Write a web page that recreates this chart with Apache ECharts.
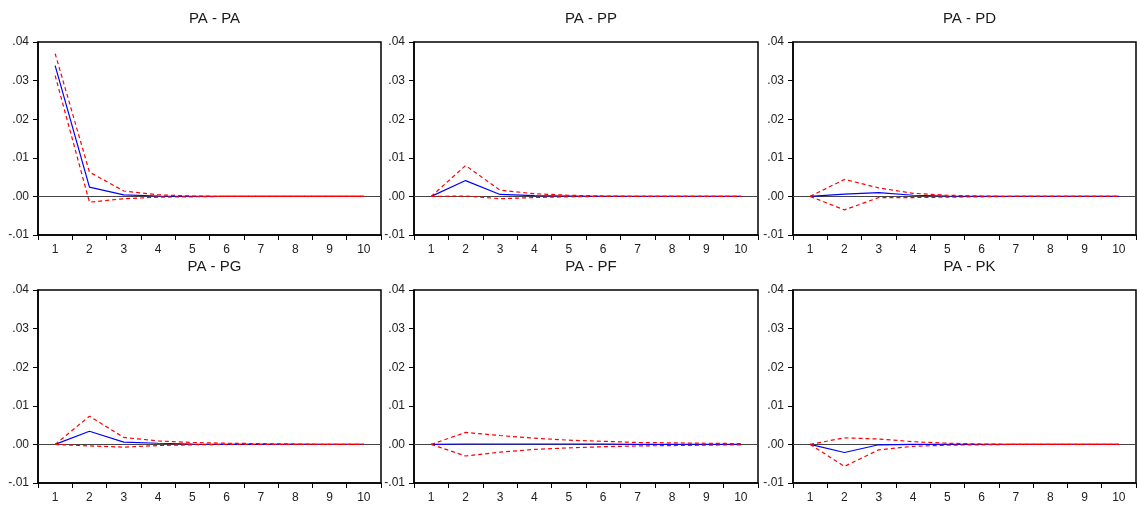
<!DOCTYPE html>
<html>
<head>
<meta charset="utf-8">
<script src="https://cdn.jsdelivr.net/npm/echarts@6/dist/echarts.min.js"></script>
<style>
  html, body { margin: 0; padding: 0; background: #fff; }
  #chart { width: 1137px; height: 509px; }
</style>
</head>
<body>
<div id="chart"></div>
<script>
// Response periods
const periods = ['1', '2', '3', '4', '5', '6', '7', '8', '9', '10'];

// Panel titles (response of PA to each shock)
const panelTitles = ['PA - PA', 'PA - PP', 'PA - PD', 'PA - PG', 'PA - PF', 'PA - PK'];

// Y tick values
const yTicks = [-0.01, 0.00, 0.01, 0.02, 0.03, 0.04];

// PA - PA
const respPA  = [0.0339, 0.0024, 0.0004, 0.0001, 0.0000, 0.0000, 0.0000, 0.0000, 0.0000, 0.0000];
const upperPA = [0.0370, 0.0063, 0.0014, 0.0004, 0.0001, 0.0000, 0.0000, 0.0000, 0.0000, 0.0000];
const lowerPA = [0.0313, -0.0015, -0.0006, -0.0002, -0.0001, 0.0000, 0.0000, 0.0000, 0.0000, 0.0000];

// PA - PP
const respPP  = [0.0000, 0.0041, 0.0005, 0.0002, 0.0001, 0.0000, 0.0000, 0.0000, 0.0000, 0.0000];
const upperPP = [0.0000, 0.0080, 0.0016, 0.0007, 0.0003, 0.0001, 0.0000, 0.0000, 0.0000, 0.0000];
const lowerPP = [0.0000, 0.0001, -0.0006, -0.0003, -0.0001, 0.0000, 0.0000, 0.0000, 0.0000, 0.0000];

// PA - PD
const respPD  = [0.0000, 0.0006, 0.0010, 0.0003, 0.0001, 0.0000, 0.0000, 0.0000, 0.0000, 0.0000];
const upperPD = [0.0000, 0.0044, 0.0022, 0.0008, 0.0003, 0.0001, 0.0000, 0.0000, 0.0000, 0.0000];
const lowerPD = [0.0000, -0.0035, -0.0003, -0.0003, -0.0002, -0.0001, 0.0000, 0.0000, 0.0000, 0.0000];

// PA - PG
const respPG  = [0.0000, 0.0034, 0.0006, 0.0003, 0.0001, 0.0000, 0.0000, 0.0000, 0.0000, 0.0000];
const upperPG = [0.0000, 0.0073, 0.0018, 0.0009, 0.0005, 0.0003, 0.0002, 0.0001, 0.0000, 0.0000];
const lowerPG = [0.0000, -0.0004, -0.0007, -0.0003, -0.0001, 0.0000, 0.0000, 0.0000, 0.0000, 0.0000];

// PA - PF
const respPF  = [0.0000, 0.0001, 0.0001, 0.0001, 0.0001, 0.0001, 0.0000, 0.0000, 0.0000, 0.0000];
const upperPF = [0.0000, 0.0031, 0.0023, 0.0016, 0.0011, 0.0008, 0.0005, 0.0004, 0.0003, 0.0002];
const lowerPF = [0.0000, -0.0030, -0.0020, -0.0013, -0.0009, -0.0006, -0.0004, -0.0003, -0.0002, -0.0001];

// PA - PK
const respPK  = [0.0000, -0.0021, -0.0001, 0.0000, 0.0000, 0.0000, 0.0000, 0.0000, 0.0000, 0.0000];
const upperPK = [0.0000, 0.0017, 0.0014, 0.0007, 0.0003, 0.0001, 0.0000, 0.0000, 0.0000, 0.0000];
const lowerPK = [0.0000, -0.0057, -0.0014, -0.0005, -0.0002, -0.0001, 0.0000, 0.0000, 0.0000, 0.0000];

const panels = [
  [respPA, upperPA, lowerPA],
  [respPP, upperPP, lowerPP],
  [respPD, upperPD, lowerPD],
  [respPG, upperPG, lowerPG],
  [respPF, upperPF, lowerPF],
  [respPK, upperPK, lowerPK]
];

// Panel boxes: three columns, two rows
const colLeft = [38, 414, 793];
const colWidth = [343, 344, 343];
const rowTop = [42, 290];
const rowHeight = 193;

const FONT = '"Liberation Sans", Arial, sans-serif';

function fmtY(v) {
  const s = (Math.round(v * 100) / 100).toFixed(2);
  return s.replace('0.', '.');
}

const grid = [], xAxis = [], yAxis = [], series = [], title = [];

panels.forEach(function (p, i) {
  const c = i % 3, r = Math.floor(i / 3);
  grid.push({
    left: colLeft[c], top: rowTop[r], width: colWidth[c], height: rowHeight,
    show: true, borderColor: '#000', borderWidth: 1.5, backgroundColor: '#fff'
  });
  title.push({
    text: panelTitles[i],
    left: colLeft[c] + colWidth[c] / 2,
    top: r === 0 ? 6 : 254,
    textAlign: 'center',
    textStyle: { fontFamily: FONT, fontSize: 15, fontWeight: 'normal', color: '#1a1a1a' }
  });
  xAxis.push({
    type: 'category', gridIndex: i, data: periods, boundaryGap: true,
    axisLine: { show: true, onZero: false, lineStyle: { color: '#000', width: 1.5 } },
    axisTick: { show: true, length: 5, lineStyle: { color: '#000' } },
    axisLabel: { margin: 9, fontFamily: FONT, fontSize: 12, color: '#222' },
    splitLine: { show: false }
  });
  yAxis.push({
    type: 'value', gridIndex: i,
    min: yTicks[0], max: yTicks[yTicks.length - 1], interval: 0.01,
    axisLine: { show: true, onZero: false, lineStyle: { color: '#000', width: 1.5 } },
    axisTick: { show: true, length: 5, lineStyle: { color: '#000' } },
    axisLabel: { margin: 9, fontFamily: FONT, fontSize: 12, color: '#222', formatter: fmtY },
    splitLine: { show: false }
  });
  // zero reference line, drawn beneath the responses
  series.push({
    type: 'line', xAxisIndex: i, yAxisIndex: i, data: [], z: 1,
    markLine: {
      silent: true, symbol: 'none', label: { show: false },
      lineStyle: { color: '#444', width: 1, type: 'solid' },
      data: [{ yAxis: 0 }], animation: false
    }
  });
  series.push({
    type: 'line', xAxisIndex: i, yAxisIndex: i, data: p[0],
    symbol: 'none', lineStyle: { color: '#0000ff', width: 1.2 }, z: 5
  });
  [p[1], p[2]].forEach(function (band) {
    series.push({
      type: 'line', xAxisIndex: i, yAxisIndex: i, data: band,
      symbol: 'none', z: 6,
      lineStyle: { color: '#ff0000', width: 1.2, type: [4, 3] }
    });
  });
});

const chart = echarts.init(document.getElementById('chart'), null, { renderer: 'canvas' });
chart.setOption({
  animation: false,
  backgroundColor: '#fff',
  title: title,
  grid: grid,
  xAxis: xAxis,
  yAxis: yAxis,
  series: series
});
</script>
</body>
</html>
